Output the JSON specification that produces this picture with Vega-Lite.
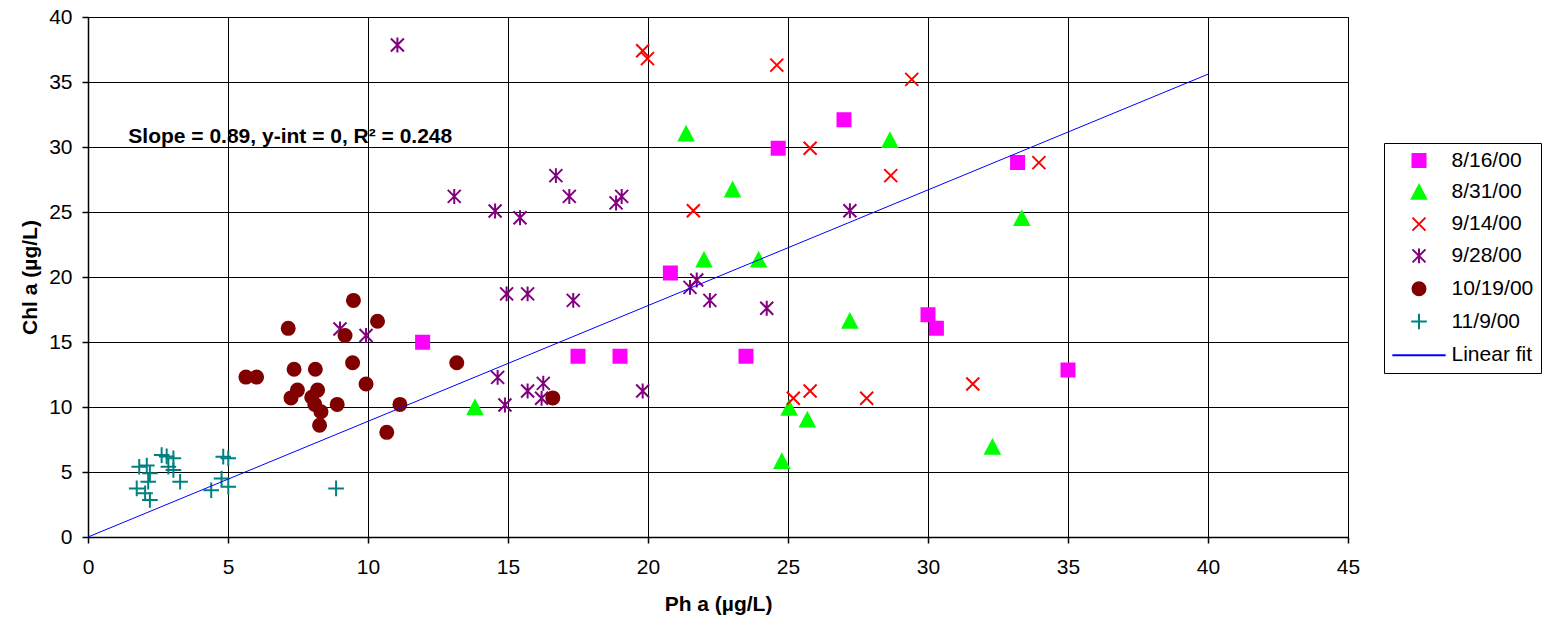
{
  "$schema": "https://vega.github.io/schema/vega-lite/v6.json",
  "width": 1260,
  "height": 520,
  "autosize": {"type": "none"},
  "padding": {"left": 88, "top": 17, "right": 201, "bottom": 86},
  "background": "white",
  "config": {
    "font": "Liberation Sans",
    "view": {"stroke": "#000"},
    "axis": {
      "labelFont": "Liberation Sans",
      "labelFontSize": 21,
      "labelColor": "#000",
      "titleFont": "Liberation Sans",
      "titleFontSize": 21,
      "titleFontWeight": "bold",
      "titleColor": "#000",
      "grid": true,
      "gridColor": "#000",
      "gridOpacity": 1,
      "gridWidth": 1,
      "domainColor": "#000",
      "domainWidth": 1.5,
      "tickColor": "#000",
      "tickSize": 6,
      "tickWidth": 1.5,
      "labelFlush": false,
      "labelOverlap": false
    }
  },
  "layer": [
    {
      "data": {
        "values": [
          {"series": "8/16/00", "ph": 11.95, "chl": 14.98},
          {"series": "8/16/00", "ph": 17.5, "chl": 13.9},
          {"series": "8/16/00", "ph": 19.0, "chl": 13.9},
          {"series": "8/16/00", "ph": 20.8, "chl": 20.3},
          {"series": "8/16/00", "ph": 23.5, "chl": 13.9},
          {"series": "8/16/00", "ph": 24.65, "chl": 29.9},
          {"series": "8/16/00", "ph": 27.0, "chl": 32.1},
          {"series": "8/16/00", "ph": 30.0, "chl": 17.1},
          {"series": "8/16/00", "ph": 30.3, "chl": 16.05},
          {"series": "8/16/00", "ph": 33.2, "chl": 28.8},
          {"series": "8/16/00", "ph": 35.0, "chl": 12.85},
          {"series": "8/31/00", "ph": 13.82, "chl": 9.95},
          {"series": "8/31/00", "ph": 21.36, "chl": 31.0},
          {"series": "8/31/00", "ph": 22.0, "chl": 21.3},
          {"series": "8/31/00", "ph": 23.02, "chl": 26.7},
          {"series": "8/31/00", "ph": 23.95, "chl": 21.3},
          {"series": "8/31/00", "ph": 24.78, "chl": 5.8},
          {"series": "8/31/00", "ph": 25.04, "chl": 9.9},
          {"series": "8/31/00", "ph": 25.69, "chl": 9.0},
          {"series": "8/31/00", "ph": 27.21, "chl": 16.6},
          {"series": "8/31/00", "ph": 28.64, "chl": 30.5},
          {"series": "8/31/00", "ph": 32.3, "chl": 6.9},
          {"series": "8/31/00", "ph": 33.35, "chl": 24.5},
          {"series": "9/14/00", "ph": 19.81, "chl": 37.4},
          {"series": "9/14/00", "ph": 19.98, "chl": 36.8},
          {"series": "9/14/00", "ph": 21.62, "chl": 25.1},
          {"series": "9/14/00", "ph": 24.6, "chl": 36.3},
          {"series": "9/14/00", "ph": 25.19, "chl": 10.67},
          {"series": "9/14/00", "ph": 25.79, "chl": 11.23},
          {"series": "9/14/00", "ph": 25.79, "chl": 29.9},
          {"series": "9/14/00", "ph": 27.81, "chl": 10.67},
          {"series": "9/14/00", "ph": 28.67, "chl": 27.8},
          {"series": "9/14/00", "ph": 29.42, "chl": 35.2},
          {"series": "9/14/00", "ph": 31.6, "chl": 11.77},
          {"series": "9/14/00", "ph": 33.96, "chl": 28.8},
          {"series": "9/28/00", "ph": 9.0, "chl": 16.0},
          {"series": "9/28/00", "ph": 9.93, "chl": 15.5},
          {"series": "9/28/00", "ph": 11.05, "chl": 37.85},
          {"series": "9/28/00", "ph": 13.08, "chl": 26.2},
          {"series": "9/28/00", "ph": 14.54, "chl": 25.08},
          {"series": "9/28/00", "ph": 15.43, "chl": 24.56},
          {"series": "9/28/00", "ph": 16.71, "chl": 27.8},
          {"series": "9/28/00", "ph": 17.19, "chl": 26.2},
          {"series": "9/28/00", "ph": 18.86, "chl": 25.7},
          {"series": "9/28/00", "ph": 19.06, "chl": 26.2},
          {"series": "9/28/00", "ph": 14.95, "chl": 18.7},
          {"series": "9/28/00", "ph": 15.7, "chl": 18.7},
          {"series": "9/28/00", "ph": 17.33, "chl": 18.2},
          {"series": "9/28/00", "ph": 14.63, "chl": 12.28},
          {"series": "9/28/00", "ph": 14.89, "chl": 10.15},
          {"series": "9/28/00", "ph": 15.7, "chl": 11.23},
          {"series": "9/28/00", "ph": 16.26, "chl": 11.82},
          {"series": "9/28/00", "ph": 16.2, "chl": 10.67},
          {"series": "9/28/00", "ph": 19.81, "chl": 11.23},
          {"series": "9/28/00", "ph": 21.5, "chl": 19.2},
          {"series": "9/28/00", "ph": 21.74, "chl": 19.77},
          {"series": "9/28/00", "ph": 22.21, "chl": 18.2},
          {"series": "9/28/00", "ph": 24.24, "chl": 17.6},
          {"series": "9/28/00", "ph": 27.21, "chl": 25.1},
          {"series": "10/19/00", "ph": 5.64, "chl": 12.3},
          {"series": "10/19/00", "ph": 6.02, "chl": 12.3},
          {"series": "10/19/00", "ph": 7.15, "chl": 16.05},
          {"series": "10/19/00", "ph": 7.25, "chl": 10.7},
          {"series": "10/19/00", "ph": 7.36, "chl": 12.9},
          {"series": "10/19/00", "ph": 7.48, "chl": 11.3},
          {"series": "10/19/00", "ph": 7.99, "chl": 10.75},
          {"series": "10/19/00", "ph": 8.1, "chl": 10.2},
          {"series": "10/19/00", "ph": 8.12, "chl": 12.9},
          {"series": "10/19/00", "ph": 8.2, "chl": 11.3},
          {"series": "10/19/00", "ph": 8.32, "chl": 9.64},
          {"series": "10/19/00", "ph": 8.27, "chl": 8.6},
          {"series": "10/19/00", "ph": 8.9, "chl": 10.2},
          {"series": "10/19/00", "ph": 9.18, "chl": 15.5},
          {"series": "10/19/00", "ph": 9.45, "chl": 13.4},
          {"series": "10/19/00", "ph": 9.48, "chl": 18.2},
          {"series": "10/19/00", "ph": 9.93, "chl": 11.77},
          {"series": "10/19/00", "ph": 10.34, "chl": 16.6},
          {"series": "10/19/00", "ph": 10.67, "chl": 8.05},
          {"series": "10/19/00", "ph": 11.14, "chl": 10.2},
          {"series": "10/19/00", "ph": 13.17, "chl": 13.4},
          {"series": "10/19/00", "ph": 16.6, "chl": 10.7},
          {"series": "11/9/00", "ph": 1.83, "chl": 5.4},
          {"series": "11/9/00", "ph": 2.1, "chl": 5.5},
          {"series": "11/9/00", "ph": 2.21, "chl": 4.9},
          {"series": "11/9/00", "ph": 2.15, "chl": 4.25},
          {"series": "11/9/00", "ph": 1.74, "chl": 3.74},
          {"series": "11/9/00", "ph": 2.04, "chl": 3.36},
          {"series": "11/9/00", "ph": 2.21, "chl": 2.85},
          {"series": "11/9/00", "ph": 2.63, "chl": 6.3},
          {"series": "11/9/00", "ph": 2.81, "chl": 6.2},
          {"series": "11/9/00", "ph": 3.05, "chl": 6.05},
          {"series": "11/9/00", "ph": 2.87, "chl": 5.4},
          {"series": "11/9/00", "ph": 3.05, "chl": 5.15},
          {"series": "11/9/00", "ph": 3.29, "chl": 4.25},
          {"series": "11/9/00", "ph": 4.83, "chl": 6.18},
          {"series": "11/9/00", "ph": 5.01, "chl": 6.05},
          {"series": "11/9/00", "ph": 4.77, "chl": 4.5},
          {"series": "11/9/00", "ph": 4.4, "chl": 3.6},
          {"series": "11/9/00", "ph": 5.01, "chl": 3.87},
          {"series": "11/9/00", "ph": 8.86, "chl": 3.74}
        ]
      },
      "mark": {"type": "point", "filled": true, "opacity": 1, "strokeWidth": 2, "size": 169},
      "encoding": {
        "x": {
          "field": "ph", "type": "quantitative",
          "scale": {"domain": [0, 45], "nice": false},
          "axis": {"values": [0, 5, 10, 15, 20, 25, 30, 35, 40, 45], "labelPadding": 13, "titlePadding": 16, "title": "Ph a  (µg/L)"}
        },
        "y": {
          "field": "chl", "type": "quantitative",
          "scale": {"domain": [0, 40], "nice": false},
          "axis": {"values": [0, 5, 10, 15, 20, 25, 30, 35, 40], "labelPadding": 10, "titlePadding": 8, "title": "Chl a  (µg/L)"}
        },
        "shape": {
          "field": "series", "type": "nominal",
          "scale": {
            "domain": ["8/16/00", "8/31/00", "9/14/00", "9/28/00", "10/19/00", "11/9/00", "Linear fit"],
            "range": ["square", "M0,-1.1L-1.1,1L1.1,1Z", "M-1,-1L1,1M-1,1L1,-1", "M-1,-1L1,1M-1,1L1,-1M0,-1.15L0,1.15", "circle", "M-1.2,0L1.2,0M0,-1.2L0,1.2", "M-4.1,0L4.1,0"]
          },
          "legend": {"title": null, "orient": "none", "legendX": 1296, "legendY": 126, "padding": 7, "strokeColor": "#000", "fillColor": "white", "labelFont": "Liberation Sans", "labelFontSize": 21, "labelColor": "#000", "rowPadding": 9.8, "symbolOffset": 17.5, "labelOffset": 22, "symbolSize": 169, "symbolStrokeWidth": 2, "encode": {"symbols": {"update": {"strokeWidth": {"signal": "datum.value === 'Linear fit' ? 1 : 2"}}}}}
        },
        "fill": {
          "field": "series", "type": "nominal",
          "scale": {
            "domain": ["8/16/00", "8/31/00", "9/14/00", "9/28/00", "10/19/00", "11/9/00", "Linear fit"],
            "range": ["#ff00ff", "#00ff00", "#ff0000", "#800080", "#800000", "#008080", "#0000ff"]
          },
          "legend": {"title": null, "orient": "none", "legendX": 1296, "legendY": 126, "padding": 7, "strokeColor": "#000", "fillColor": "white", "labelFont": "Liberation Sans", "labelFontSize": 21, "labelColor": "#000", "rowPadding": 9.8, "symbolOffset": 17.5, "labelOffset": 22, "symbolSize": 169, "symbolStrokeWidth": 2, "encode": {"symbols": {"update": {"strokeWidth": {"signal": "datum.value === 'Linear fit' ? 1 : 2"}}}}}
        },
        "stroke": {
          "field": "series", "type": "nominal",
          "scale": {
            "domain": ["8/16/00", "8/31/00", "9/14/00", "9/28/00", "10/19/00", "11/9/00", "Linear fit"],
            "range": ["#ff00ff", "#00ff00", "#ff0000", "#800080", "#800000", "#008080", "#0000ff"]
          },
          "legend": {"title": null, "orient": "none", "legendX": 1296, "legendY": 126, "padding": 7, "strokeColor": "#000", "fillColor": "white", "labelFont": "Liberation Sans", "labelFontSize": 21, "labelColor": "#000", "rowPadding": 9.8, "symbolOffset": 17.5, "labelOffset": 22, "symbolSize": 169, "symbolStrokeWidth": 2, "encode": {"symbols": {"update": {"strokeWidth": {"signal": "datum.value === 'Linear fit' ? 1 : 2"}}}}}
        }
      }
    },
    {
      "data": {"values": [{"ph": 0, "chl": 0}, {"ph": 40, "chl": 35.6}]},
      "mark": {"type": "line", "color": "#0000ff", "strokeWidth": 1},
      "encoding": {
        "x": {"field": "ph", "type": "quantitative"},
        "y": {"field": "chl", "type": "quantitative"}
      }
    },
    {
      "data": {"values": [{"label": "Slope = 0.89, y-int = 0, R² = 0.248"}]},
      "mark": {"type": "text", "align": "left", "baseline": "alphabetic", "font": "Liberation Sans", "fontSize": 21, "fontWeight": "bold", "color": "#000"},
      "encoding": {
        "x": {"datum": 1.44, "type": "quantitative"},
        "y": {"datum": 30.33, "type": "quantitative"},
        "text": {"field": "label"}
      }
    }
  ]
}
